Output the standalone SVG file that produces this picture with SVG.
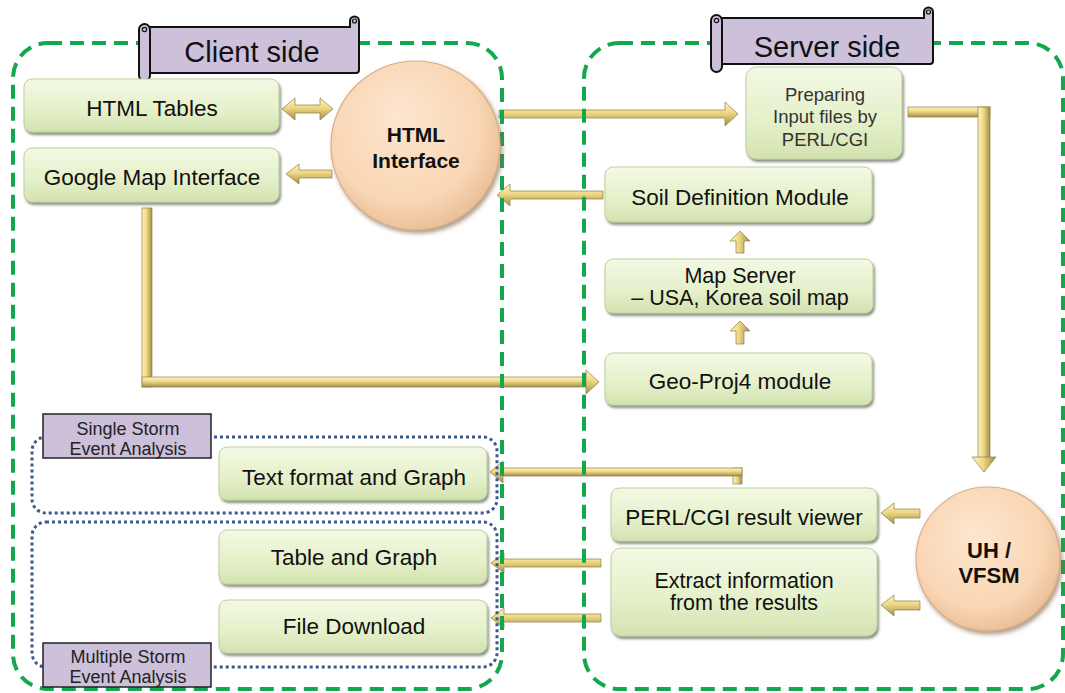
<svg xmlns="http://www.w3.org/2000/svg" width="1065" height="693" viewBox="0 0 1065 693">
<defs>
<linearGradient id="gBox" x1="0" y1="0" x2="0" y2="1">
<stop offset="0" stop-color="#F3F9E4"/>
<stop offset="0.6" stop-color="#E4F0C9"/>
<stop offset="1" stop-color="#D3E2B0"/>
</linearGradient>
<radialGradient id="gCirc" cx="0.45" cy="0.42" r="0.6" fx="0.4" fy="0.3">
<stop offset="0" stop-color="#FDE6CF"/>
<stop offset="0.75" stop-color="#F9D6B4"/>
<stop offset="1" stop-color="#E9BE96"/>
</radialGradient>
<linearGradient id="gH" x1="0" y1="0" x2="0" y2="1">
<stop offset="0" stop-color="#FFF5C2"/>
<stop offset="0.45" stop-color="#EED883"/>
<stop offset="1" stop-color="#A38E4C"/>
</linearGradient>
<linearGradient id="gV" x1="0" y1="0" x2="1" y2="0">
<stop offset="0" stop-color="#FFF5C2"/>
<stop offset="0.45" stop-color="#EED883"/>
<stop offset="1" stop-color="#A38E4C"/>
</linearGradient>
<filter id="sh" x="-10%" y="-10%" width="125%" height="135%">
<feDropShadow dx="1.5" dy="2.5" stdDeviation="1.3" flood-color="#4E5540" flood-opacity="0.65"/>
</filter>
<filter id="shc" x="-10%" y="-10%" width="125%" height="125%">
<feDropShadow dx="2" dy="3" stdDeviation="2" flood-color="#7A5A3E" flood-opacity="0.6"/>
</filter>
</defs>
<style>
.box{fill:url(#gBox);stroke:#BFD09E;stroke-width:1;filter:url(#sh)}
.circ{fill:url(#gCirc);stroke:#D9AD86;stroke-width:1.2;filter:url(#shc)}
.t{font-family:"Liberation Sans",Arial,sans-serif;font-size:22.5px;fill:#111;text-anchor:middle}
.t2{font-family:"Liberation Sans",Arial,sans-serif;font-size:21.5px;fill:#111;text-anchor:middle}
.tb{font-family:"Liberation Sans",Arial,sans-serif;font-size:21px;font-weight:bold;fill:#111;text-anchor:middle}
.ts{font-family:"Liberation Sans",Arial,sans-serif;font-size:18.5px;fill:#333;text-anchor:middle}
.tl{font-family:"Liberation Sans",Arial,sans-serif;font-size:18px;fill:#222;text-anchor:middle}
.tt{font-family:"Liberation Sans",Arial,sans-serif;font-size:29px;fill:#111;text-anchor:middle}
.ah{fill:url(#gH);stroke:#8F7C45;stroke-width:0.7}
.av{fill:url(#gV);stroke:#8F7C45;stroke-width:0.7}
.dash{fill:none;stroke:#14A84E;stroke-width:4;stroke-dasharray:14 8}
.dot{fill:none;stroke:#3C5A8C;stroke-width:3;stroke-dasharray:3 3}
.scroll{fill:#CCC0DA;stroke:#111;stroke-width:2}
.lab{fill:#CCC0DA;stroke:#222;stroke-width:1.5}
</style>

<g id="connectors">
<polygon class="ah" points="282,109 295,98 295,105 320,105 320,98 333,109 320,120 320,113 295,113 295,120"/>
<polygon class="ah" points="286,174 299,164 299,170 332,170 332,178 299,178 299,184"/>
<polygon class="ah" points="499,110 725,110 725,102 738,114 725,126 725,118 499,118"/>
<polygon class="ah" points="497,195 510,184 510,191 603,191 603,199 510,199 510,206"/>
<rect class="ah" x="908" y="107" width="82" height="10"/>
<rect class="av" x="978" y="107" width="12" height="351"/>
<polygon class="av" points="972,457 996,457 984,472"/>
<polygon class="av" points="740,321 750,331 744,331 744,344 736,344 736,331 730,331"/>
<polygon class="av" points="740,231 750,241 744,241 744,253 736,253 736,241 730,241"/>
<rect class="av" x="142" y="208" width="10" height="179"/>
<rect class="ah" x="142" y="377" width="445" height="10"/>
<polygon class="ah" points="586,370 599,382 586,394"/>
<rect class="av" x="733" y="468" width="9" height="16"/>
<rect class="ah" x="502" y="468" width="240" height="8"/>
<polygon class="ah" points="490,472 503,461 503,483"/>
<polygon class="ah" points="881,513 894,503 894,509 920,509 920,518 894,518 894,524"/>
<polygon class="ah" points="881,605 894,595 894,601 920,601 920,610 894,610 894,616"/>
<polygon class="ah" points="491,563 504,553 504,559 601,559 601,567 504,567 504,573"/>
<polygon class="ah" points="491,618 504,608 504,614 601,614 601,622 504,622 504,628"/>
</g>

<g id="client-side">
<rect class="dash" x="13" y="43" width="489" height="646" rx="35"/>
</g>
<g id="server-side">
<rect class="dash" x="584" y="43" width="479" height="646" rx="35"/>
</g>

<g id="single-storm">
<rect class="dot" x="32" y="437" width="465" height="76" rx="14"/>
</g>
<g id="multiple-storm">
<rect class="dot" x="32" y="522" width="465" height="145" rx="14"/>
</g>

<g id="client-banner">
<path class="scroll" d="M148,27 L350,27 L350,21 A4.5,4.5 0 0 1 359,21 L359,70 Q359,73 356,73 L148,73 Z"/>
<circle cx="354.5" cy="21" r="2" fill="none" stroke="#111" stroke-width="1.2"/>
<rect class="scroll" x="139" y="24" width="11" height="57" rx="5.5"/>
<circle cx="144.5" cy="29.5" r="2.2" fill="none" stroke="#111" stroke-width="1.2"/>
<text class="tt" x="252" y="62">Client side</text>
</g>

<g id="server-banner">
<path class="scroll" d="M720,18 L924,18 L924,12 A4.5,4.5 0 0 1 933,12 L933,61 Q933,64 930,64 L720,64 Z"/>
<circle cx="928.5" cy="12" r="2" fill="none" stroke="#111" stroke-width="1.2"/>
<rect class="scroll" x="711" y="15" width="11" height="57" rx="5.5"/>
<circle cx="716.5" cy="20.5" r="2.2" fill="none" stroke="#111" stroke-width="1.2"/>
<text class="tt" x="827" y="57">Server side</text>
</g>

<g id="n-html-tables">
<rect class="box" x="24" y="79" width="255" height="53" rx="8"/>
<text class="t" x="152" y="116">HTML Tables</text>
</g>
<g id="n-google-map">
<rect class="box" x="24" y="148" width="255" height="54" rx="8"/>
<text class="t" x="152" y="185">Google Map Interface</text>
</g>
<g id="n-html-interface">
<circle class="circ" cx="415.5" cy="145.5" r="84.5"/>
<text class="tb" x="416" y="142">HTML</text>
<text class="tb" x="416" y="168">Interface</text>
</g>
<g id="n-preparing">
<rect class="box" x="746" y="67" width="156" height="92" rx="10"/>
<text class="ts" x="825" y="101">Preparing</text>
<text class="ts" x="825" y="123">Input files by</text>
<text class="ts" x="825" y="146">PERL/CGI</text>
</g>
<g id="n-soil">
<rect class="box" x="605" y="167" width="267" height="55" rx="8"/>
<text class="t" x="740" y="205">Soil Definition Module</text>
</g>
<g id="n-map-server">
<rect class="box" x="605" y="259" width="268" height="54" rx="8"/>
<text class="t2" x="740" y="283">Map Server</text>
<text class="t2" x="740" y="305">– USA, Korea soil map</text>
</g>
<g id="n-geo-proj4">
<rect class="box" x="605" y="353" width="267" height="52" rx="8"/>
<text class="t" x="740" y="389">Geo-Proj4 module</text>
</g>
<g id="n-result-viewer">
<rect class="box" x="611" y="488" width="266" height="53" rx="8"/>
<text class="t" x="744" y="525">PERL/CGI result viewer</text>
</g>
<g id="n-extract">
<rect class="box" x="611" y="548" width="266" height="88" rx="10"/>
<text class="t2" x="744" y="588">Extract information</text>
<text class="t2" x="744" y="610">from the results</text>
</g>
<g id="n-uh-vfsm">
<circle class="circ" cx="988" cy="559" r="72"/>
<text class="tb" x="989" y="558" style="font-size:22px">UH /</text>
<text class="tb" x="989" y="583" style="font-size:22px">VFSM</text>
</g>
<g id="n-text-format">
<rect class="box" x="219" y="447" width="268" height="53" rx="8"/>
<text class="t" x="354" y="485">Text format and Graph</text>
</g>
<g id="n-table-graph">
<rect class="box" x="219" y="530" width="268" height="54" rx="8"/>
<text class="t" x="354" y="565">Table and Graph</text>
</g>
<g id="n-file-download">
<rect class="box" x="219" y="600" width="268" height="53" rx="8"/>
<text class="t" x="354" y="634">File Download</text>
</g>

<g id="label-single">
<rect class="lab" x="43" y="414" width="168" height="44"/>
<text class="tl" x="128" y="435">Single Storm</text>
<text class="tl" x="128" y="455">Event Analysis</text>
</g>
<g id="label-multiple">
<rect class="lab" x="43" y="643" width="168" height="44"/>
<text class="tl" x="128" y="663">Multiple Storm</text>
<text class="tl" x="128" y="683">Event Analysis</text>
</g>
</svg>
